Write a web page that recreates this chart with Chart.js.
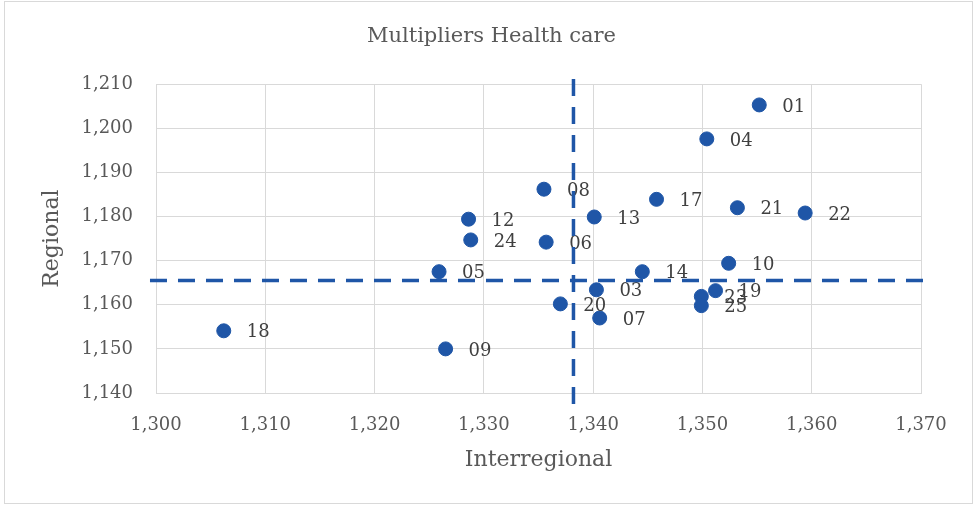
<!DOCTYPE html>
<html>
<head>
<meta charset="utf-8">
<title>Multipliers Health care</title>
<script src="https://cdn.jsdelivr.net/npm/chart.js@4/dist/chart.umd.min.js"></script>
<style>
  html, body { margin: 0; padding: 0; background: #ffffff; }
  #wrap { position: relative; width: 977px; height: 507px; }
</style>
</head>
<body>
<div id="wrap"><canvas id="c" width="977" height="507"></canvas></div>
<script>
// Region codes and their multipliers
const regions      = ['01', '03', '04', '05', '06', '07', '08', '09', '10', '12', '13', '14', '17', '18', '19', '20', '21', '22', '23', '24', '25'];
const interregional = [1355.2, 1340.3, 1350.4, 1325.9, 1335.7, 1340.6, 1335.5, 1326.5, 1352.4, 1328.6, 1340.1, 1344.5, 1345.8, 1306.2, 1351.2, 1337.0, 1353.2, 1359.4, 1349.9, 1328.8, 1349.9];
const regional      = [1205.3, 1163.4, 1197.6, 1167.5, 1174.2, 1157.0, 1186.2, 1150.0, 1169.4, 1179.4, 1179.9, 1167.5, 1183.9, 1154.1, 1163.2, 1160.2, 1182.0, 1180.8, 1161.9, 1174.7, 1159.8];

// Axis ticks
const xTicks = [1300, 1310, 1320, 1330, 1340, 1350, 1360, 1370];
const yTicks = [1140, 1150, 1160, 1170, 1180, 1190, 1200, 1210];

// Reference (average) lines and how far they run
const refInterregional = 1338.2;
const refRegional = 1165.5;
const refXSpan = [1299.45, 1370.45];
const refYSpan = [1137.3, 1211.2];

const BLUE = '#1f56a7';
const GRID = '#d9d9d9';
const TEXT = '#595959';
const FONT = 'DejaVu Serif';

const points = regions.map((r, i) => ({ x: interregional[i], y: regional[i], label: r }));

// Point labels, drawn right after the scatter so the dashed lines sit above them
const pointLabels = {
  id: 'pointLabels',
  afterDatasetDraw(chart, args) {
    if (args.index !== 0) return;
    const ctx = chart.ctx;
    ctx.save();
    ctx.font = '18px "' + FONT + '"';
    ctx.fillStyle = '#404040';
    ctx.textAlign = 'left';
    ctx.textBaseline = 'middle';
    args.meta.data.forEach((el, i) => {
      ctx.fillText(points[i].label, el.x + 23, el.y + 2);
    });
    ctx.restore();
  }
};

// Outer frame of the chart
const frame = {
  id: 'frame',
  beforeDraw(chart) {
    const ctx = chart.ctx;
    ctx.save();
    ctx.fillStyle = '#ffffff';
    ctx.fillRect(0, 0, chart.width, chart.height);
    ctx.strokeStyle = GRID;
    ctx.lineWidth = 1;
    ctx.strokeRect(4.5, 1.5, 968, 502);
    ctx.restore();
  }
};

new Chart(document.getElementById('c'), {
  type: 'scatter',
  data: {
    datasets: [
      {
        data: points,
        backgroundColor: BLUE,
        borderColor: BLUE,
        pointRadius: 7,
        pointHoverRadius: 7,
        order: 2
      },
      {
        data: [{ x: refXSpan[0], y: refRegional }, { x: refXSpan[1], y: refRegional }],
        showLine: true,
        borderColor: BLUE,
        borderWidth: 3.5,
        borderDash: [17, 11],
        pointRadius: 0,
        clip: false,
        order: 1
      },
      {
        data: [{ x: refInterregional, y: refYSpan[1] }, { x: refInterregional, y: refYSpan[0] }],
        showLine: true,
        borderColor: BLUE,
        borderWidth: 3.5,
        borderDash: [17, 11],
        pointRadius: 0,
        clip: false,
        order: 1
      }
    ]
  },
  options: {
    responsive: false,
    animation: false,
    devicePixelRatio: 1,
    layout: { padding: { left: 6, right: 0, top: 0, bottom: 0 } },
    plugins: {
      legend: { display: false },
      tooltip: { enabled: false },
      title: {
        display: true,
        text: 'Multipliers Health care',
        color: TEXT,
        font: { family: FONT, size: 21, weight: 'normal', lineHeight: 1.2 },
        padding: { top: 24, bottom: 35 }
      }
    },
    scales: {
      x: {
        type: 'linear',
        min: xTicks[0],
        max: xTicks[xTicks.length - 1],
        afterBuildTicks(scale) { scale.ticks = xTicks.map(v => ({ value: v })); },
        afterFit(scale) { scale.height = 114; },
        grid: { color: GRID, lineWidth: 1, drawTicks: false },
        border: { color: GRID },
        ticks: {
          color: TEXT,
          padding: 22,
          font: { family: FONT, size: 18 },
          callback: v => v.toLocaleString('en-US')
        },
        title: {
          display: true,
          text: 'Interregional',
          color: TEXT,
          font: { family: FONT, size: 22, lineHeight: 1.2 },
          padding: { top: 0, bottom: 34 }
        }
      },
      y: {
        type: 'linear',
        min: yTicks[0],
        max: yTicks[yTicks.length - 1],
        afterBuildTicks(scale) { scale.ticks = yTicks.map(v => ({ value: v })); },
        afterFit(scale) { scale.width = 150; },
        grid: { color: GRID, lineWidth: 1, drawTicks: false },
        border: { color: GRID },
        ticks: {
          color: TEXT,
          padding: 23,
          font: { family: FONT, size: 18 },
          callback: v => v.toLocaleString('en-US')
        },
        title: {
          display: true,
          text: 'Regional',
          color: TEXT,
          font: { family: FONT, size: 22, lineHeight: 1.2 },
          padding: { top: 33, bottom: 0 }
        }
      },
      // empty right-hand gutter so the plot ends where the title stays centred on the whole chart
      gutter: {
        type: 'linear',
        position: 'right',
        display: true,
        afterFit(scale) { scale.width = 56; },
        grid: { display: false, drawOnChartArea: false },
        border: { display: false },
        ticks: { display: false }
      }
    }
  },
  plugins: [frame, pointLabels]
});
</script>
</body>
</html>
